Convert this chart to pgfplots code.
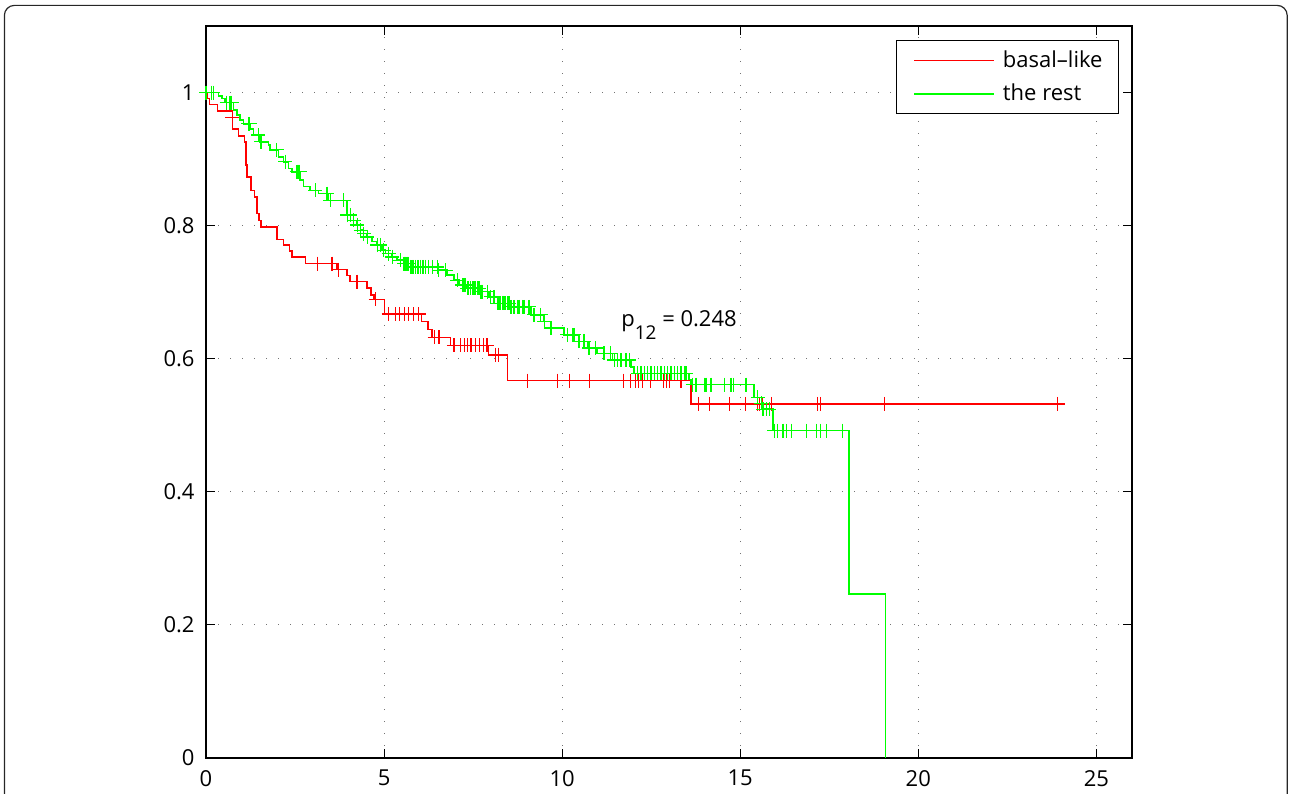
\documentclass[border=0pt]{standalone}
\usepackage{fontspec}
\setmainfont{Open Sans}
\usepackage{pgfplots}
\pgfplotsset{compat=1.18}

% survival curves: (time of drop, new level), drawn as steps
\pgfplotstableread{
x      y
0      1.000
0.03   0.991
0.10   0.982
0.32   0.972
0.74   0.945
0.91   0.935
1.08   0.926
1.12   0.891
1.15   0.873
1.26   0.853
1.36   0.843
1.44   0.818
1.49   0.808
1.54   0.798
1.99   0.779
2.18   0.771
2.34   0.762
2.41   0.753
2.79   0.743
3.67   0.734
3.96   0.725
4.05   0.716
4.52   0.706
4.64   0.696
4.71   0.689
5.01   0.667
6.05   0.656
6.24   0.644
6.35   0.632
6.86   0.620
7.93   0.606
8.47   0.567
13.62  0.532
23.91  0.532
}\basal

\pgfplotstableread{
x      y
0.74   0.963
3.13   0.743
3.54   0.743
3.72   0.734
4.24   0.716
4.76   0.689
5.13   0.667
5.32   0.667
5.44   0.667
5.57   0.667
5.69   0.667
5.83   0.667
5.97   0.667
6.42   0.632
6.54   0.632
6.96   0.620
7.14   0.620
7.25   0.620
7.35   0.620
7.44   0.620
7.56   0.620
7.68   0.620
7.80   0.620
7.89   0.620
8.13   0.606
8.22   0.606
9.02   0.567
9.86   0.567
10.20  0.567
10.76  0.567
11.72  0.567
11.91  0.567
12.05  0.567
12.14  0.567
12.26  0.567
12.49  0.567
12.85  0.567
12.92  0.567
13.01  0.567
13.34  0.567
13.82  0.532
14.13  0.532
14.70  0.532
15.15  0.532
15.49  0.532
15.54  0.532
15.63  0.532
15.87  0.532
17.16  0.532
17.26  0.532
19.05  0.532
23.91  0.532
}\basalcens

\pgfplotstableread{
x       y
0       1.000
0.346   0.995
0.442   0.991
0.535   0.985
0.768   0.974
0.864   0.966
0.957   0.959
1.050   0.953
1.238   0.945
1.331   0.936
1.519   0.926
1.753   0.921
1.801   0.914
2.034   0.903
2.175   0.896
2.316   0.886
2.411   0.881
2.645   0.869
2.738   0.859
2.926   0.853
3.160   0.848
3.441   0.838
3.959   0.816
4.145   0.808
4.240   0.801
4.333   0.793
4.426   0.788
4.522   0.783
4.662   0.776
4.803   0.771
4.944   0.763
5.037   0.758
5.225   0.753
5.366   0.748
5.551   0.743
5.740   0.738
6.528   0.733
6.773   0.726
6.958   0.718
7.099   0.711
7.335   0.706
7.710   0.701
7.943   0.693
8.180   0.683
8.554   0.678
9.117   0.666
9.491   0.656
9.679   0.646
10.045  0.636
10.467  0.626
10.712  0.616
10.974  0.608
11.415  0.598
11.930  0.588
12.023  0.578
13.562  0.569
13.618  0.561
15.383  0.542
15.537  0.533
15.633  0.524
15.917  0.492
18.056  0.246
19.077  0.000
}\rest

\pgfplotstableread{
x       y
0.000   1.000
0.160   1.000
0.205   1.000
0.582   0.985
0.675   0.985
0.723   0.985
1.190   0.953
1.230   0.953
1.472   0.936
1.548   0.926
1.989   0.914
2.223   0.896
2.552   0.881
2.597   0.881
2.630   0.881
3.067   0.853
3.396   0.848
3.489   0.838
3.863   0.838
3.970   0.816
4.052   0.816
4.150   0.808
4.250   0.801
4.340   0.793
4.430   0.788
4.530   0.783
4.810   0.771
4.896   0.771
4.989   0.763
5.129   0.758
5.230   0.753
5.459   0.748
5.560   0.743
5.599   0.743
5.647   0.743
5.692   0.743
5.750   0.738
5.788   0.738
5.833   0.738
5.881   0.738
5.929   0.738
5.974   0.738
6.021   0.738
6.069   0.738
6.114   0.738
6.162   0.738
6.255   0.738
6.351   0.738
6.491   0.738
6.536   0.733
6.725   0.733
7.054   0.718
7.195   0.711
7.240   0.711
7.288   0.711
7.340   0.706
7.380   0.706
7.428   0.706
7.476   0.706
7.521   0.706
7.569   0.706
7.617   0.706
7.662   0.706
7.720   0.701
7.757   0.701
7.898   0.701
7.991   0.693
8.084   0.693
8.190   0.683
8.225   0.683
8.272   0.683
8.320   0.683
8.365   0.683
8.413   0.683
8.461   0.683
8.506   0.683
8.560   0.678
8.647   0.678
8.742   0.678
8.787   0.678
8.890   0.678
8.928   0.678
9.069   0.678
9.209   0.666
9.398   0.666
9.500   0.656
9.690   0.646
10.149  0.636
10.290  0.636
10.335  0.636
10.475  0.626
10.616  0.626
10.757  0.616
10.945  0.616
11.179  0.608
11.367  0.608
11.460  0.598
11.556  0.598
11.649  0.598
11.790  0.598
11.882  0.598
12.119  0.578
12.212  0.578
12.304  0.578
12.400  0.578
12.493  0.578
12.586  0.578
12.681  0.578
12.774  0.578
12.867  0.578
12.963  0.578
13.056  0.578
13.149  0.578
13.244  0.578
13.337  0.578
13.430  0.578
13.478  0.578
13.666  0.561
13.759  0.561
14.000  0.561
14.040  0.561
14.180  0.561
14.560  0.561
14.740  0.561
14.820  0.561
15.160  0.561
15.490  0.542
15.590  0.533
15.640  0.524
15.730  0.524
15.820  0.524
15.960  0.492
16.040  0.492
16.200  0.492
16.290  0.492
16.430  0.492
16.860  0.492
17.140  0.492
17.260  0.492
17.420  0.492
17.880  0.492
}\restcens

\definecolor{kmred}{RGB}{255,0,0}
\definecolor{kmgreen}{RGB}{0,255,0}

\begin{document}
\begin{tikzpicture}
\useasboundingbox (0,0) rectangle (645pt,396.5pt);
\begin{axis}[
  at={(103pt,17.5pt)}, anchor=south west,
  scale only axis,
  width=463pt, height=366pt,
  xmin=0, xmax=26, ymin=0, ymax=1.1,
  xtick={0,5,...,25},
  ytick={0,0.2,0.4,0.6,0.8,1},
  tick align=inside,
  tick pos=both,
  major tick length=4.5pt,
  every tick/.style={black, line width=0.5pt},
  axis line style={black, line width=0.75pt},
  grid=major,
  major grid style={black!55, line width=0.5pt, dash pattern=on 0.6pt off 5.4pt},
  /pgf/number format/assume math mode=true,
  tick label style={font=\fontsize{11}{13}\selectfont},
  xticklabel style={yshift=-2.6pt},
  yticklabel style={xshift=-2.2pt},
  legend style={at={(0.986,0.981)}, anchor=north east,
    draw=black, line width=0.5pt,
    font=\fontsize{11}{13}\selectfont,
    inner xsep=6pt, inner ysep=3pt,
    row sep=3pt, column sep=2pt},
  legend cell align=left,
  legend image code/.code={\path (0pt,0pt); \draw[#1, line width=0.7pt] (2.5pt,0pt) -- (42.5pt,0pt);},
]
  \addplot[const plot, draw=kmred, line width=0.8pt] table[x=x, y=y] {\basal};
  \addlegendentry{basal–like}
  \addplot[const plot, draw=kmgreen, line width=0.8pt] table[x=x, y=y] {\rest};
  \addlegendentry{the rest}
  \addplot[only marks, mark=+, mark size=3.5pt, draw=kmred, mark options={draw=kmred, line width=0.65pt}, forget plot] table[x=x, y=y] {\basalcens};
  \addplot[only marks, mark=+, mark size=3.5pt, draw=kmgreen, mark options={draw=kmgreen, line width=0.65pt}, forget plot] table[x=x, y=y] {\restcens};
  \node[anchor=base west, inner sep=0pt, font=\fontsize{11}{13}\selectfont]
    at (axis cs:11.65,0.6484) {p\raisebox{-6.5pt}{\fontsize{9.5}{11}\selectfont 12} = 0.248};
\end{axis}
\draw[black!85, line width=0.6pt, rounded corners=5pt] (2.2pt,-10pt) rectangle (643.6pt,393.8pt);
\end{tikzpicture}
\end{document}
